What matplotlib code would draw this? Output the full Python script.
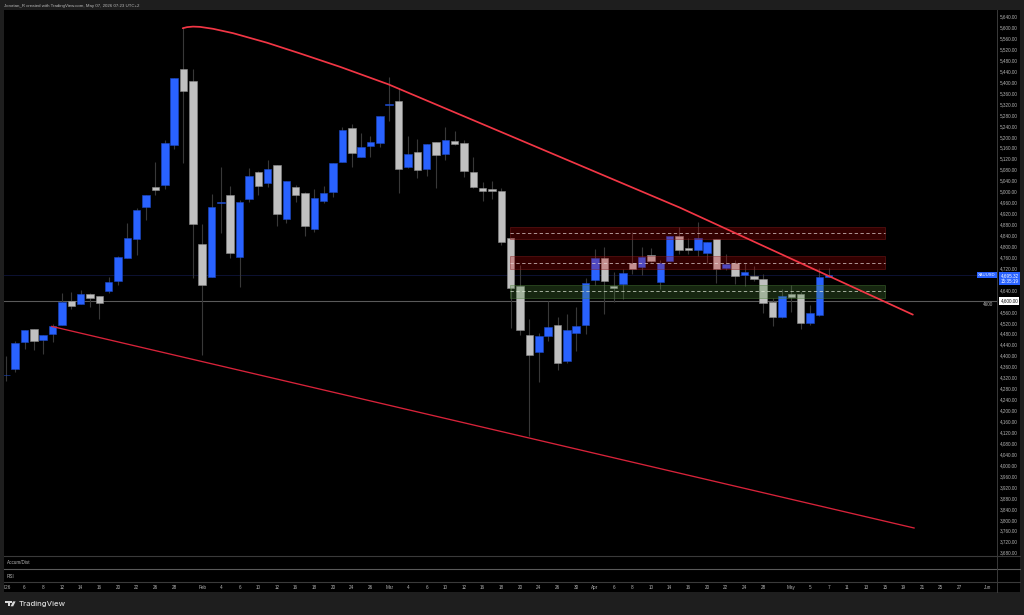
import matplotlib
matplotlib.use("Agg")
import matplotlib.pyplot as plt
from matplotlib.lines import Line2D
from matplotlib.patches import Rectangle, Polygon
from matplotlib.ticker import FuncFormatter

opens = [4328, 4351, 4450, 4496, 4457, 4479, 4512, 4600, 4590, 4624, 4617, 4636, 4673, 4757, 4825, 4945, 5018, 5023, 5171,
         5448, 5403, 4807, 4689, 4959, 4987, 4760, 4972, 5073, 5030, 5096, 4900, 5015, 4996, 4863, 4964, 4997, 5109, 5233,
         5126, 5168, 5179, 5317, 5332, 5089, 5146, 5081, 5181, 5137, 5185, 5177, 5073, 5012, 5008, 5002, 4829, 4655, 4474,
         4414, 4472, 4511, 4379, 4484, 4513, 4677, 4757, 4655, 4662, 4740, 4725, 4768, 4669, 4747, 4837, 4795, 4787, 4775,
         4825, 4720, 4740, 4694, 4692, 4681, 4596, 4540, 4627, 4625, 4520, 4550, 4689]
highs = [4399, 4455, 4494, 4497, 4475, 4516, 4630, 4634, 4640, 4629, 4618, 4686, 4764, 4884, 4940, 4987, 5108, 5188, 5415,
         5600, 5448, 4881, 4991, 5089, 5020, 4969, 5085, 5075, 5115, 5096, 5040, 5024, 4997, 5008, 5020, 5105, 5235, 5247,
         5215, 5203, 5278, 5418, 5377, 5203, 5192, 5173, 5181, 5235, 5221, 5188, 5125, 5036, 5040, 5014, 4829, 4731, 4534,
         4483, 4600, 4540, 4552, 4577, 4685, 4790, 4796, 4705, 4716, 4853, 4796, 4792, 4750, 4838, 4869, 4830, 4888, 4817,
         4826, 4770, 4750, 4738, 4728, 4697, 4610, 4643, 4658, 4633, 4584, 4719, 4719]
lows = [4308, 4341, 4425, 4421, 4406, 4451, 4512, 4571, 4590, 4579, 4535, 4630, 4658, 4757, 4768, 4896, 4987, 5010, 5156,
        5103, 4685, 4401, 4688, 4847, 4758, 4652, 4963, 4986, 5018, 4875, 4884, 4961, 4839, 4853, 4959, 4981, 5108, 5091,
        5126, 5127, 5164, 5258, 4994, 5086, 5048, 5058, 5013, 5115, 5171, 5052, 5013, 4967, 4972, 4805, 4500, 4475, 4106,
        4305, 4454, 4349, 4374, 4418, 4479, 4658, 4552, 4597, 4606, 4699, 4695, 4744, 4643, 4746, 4770, 4770, 4765, 4740,
        4667, 4713, 4662, 4656, 4673, 4557, 4508, 4539, 4558, 4497, 4512, 4545, 4688]
closes = [4331, 4446, 4493, 4452, 4474, 4507, 4596, 4583, 4624, 4612, 4592, 4668, 4762, 4829, 4932, 4986, 5005, 5179, 5415,
          5369, 4881, 4658, 4943, 4962, 4776, 4963, 5056, 5021, 5081, 4919, 5040, 4987, 4874, 4975, 4994, 5104, 5225, 5140,
          5163, 5182, 5277, 5321, 5083, 5138, 5079, 5173, 5134, 5190, 5173, 5076, 5015, 5003, 5003, 4814, 4647, 4495, 4403,
          4472, 4504, 4374, 4493, 4507, 4664, 4756, 4673, 4646, 4703, 4716, 4762, 4746, 4738, 4837, 4787, 4787, 4829, 4817,
          4718, 4736, 4691, 4705, 4679, 4594, 4540, 4618, 4613, 4520, 4555, 4688, 4695.32]

tick_pos = [0, 2, 4, 6, 8, 10, 12, 14, 16, 18, 21, 23, 25, 27, 29, 31, 33, 35, 37, 39, 41, 43, 45, 47, 49, 51, 53, 55, 57, 59,
            61, 63, 65, 67, 69, 71, 73, 75, 77, 79, 81, 84, 86, 88, 90, 92, 94, 96, 98, 100, 102, 105]
tick_labels = ["2026", "6", "8", "12", "14", "16", "20", "22", "26", "28", "Feb", "4", "6", "10", "12", "16", "18", "20", "24",
               "26", "Mar", "4", "6", "10", "12", "16", "18", "20", "24", "26", "30", "Apr", "6", "8", "10", "14", "16", "20",
               "22", "24", "28", "May", "5", "7", "11", "13", "15", "19", "21", "25", "27", "Jun"]

# 4,680 and 4,600 sit under the price tags
price_ticks = [p for p in range(3680, 5641, 40) if p not in (4680, 4600)]

# drawings on the chart
upper_x = [18.92, 19.38, 20.02, 20.77, 22.16, 24.3, 27.94, 31.46, 35.74, 40.91, 53.92, 72.1, 97.0]
upper_y = [5597, 5601, 5603, 5602, 5595, 5579, 5544, 5505, 5456, 5392, 5204, 4941, 4550]
lower_x = [4.91, 97.13]
lower_y = [4507, 3770]

zone_start, zone_end = 53.9, 94.0
red_zones = [(4825, 4869, 4847), (4717, 4763, 4740)]
green_zones = [(4612, 4657, 4635)]

last_price = 4695.32
level_price = 4600

W, H = 1024, 615
BG = "#1e1e1e"
TXT = "#b4b4b4"
plt.rcParams["font.family"] = ["Liberation Sans", "DejaVu Sans"]


def px_rect(x0, y0, x1, y1):
    return [x0 / W, 1 - y1 / H, (x1 - x0) / W, (y1 - y0) / H]


def px_line(fig, x0, y0, x1, y1, color, lw=0.7):
    fig.add_artist(Line2D([x0 / W, x1 / W], [1 - y0 / H, 1 - y1 / H], color=color, lw=lw, zorder=5))


fig = plt.figure(figsize=(W / 100, H / 100), dpi=100, facecolor=BG)

bg = fig.add_axes(px_rect(4, 10, 1020, 592), facecolor="black")
bg.set_xticks([])
bg.set_yticks([])
for s in bg.spines.values():
    s.set_visible(False)

ax = fig.add_axes(px_rect(4, 10, 997, 556.3), facecolor="none")
ax.set_xlim(-0.1925, 106.0)
ax.set_ylim(3666.5, 5663.7)
for s in ax.spines.values():
    s.set_visible(False)
ax.set_xticks([])
ax.yaxis.tick_right()
ax.set_yticks(price_ticks)
ax.yaxis.set_major_formatter(FuncFormatter(lambda v, _: f"{v:,.2f}"))
ax.tick_params(axis="y", length=0, pad=2.2, labelsize=3.3, labelcolor=TXT)

# candles
idx = list(range(len(opens)))
ax.vlines(idx, lows, highs, color="#383838", lw=0.8, zorder=2)
for i, o, c in zip(idx, opens, closes):
    up = c >= o
    ax.bar(i, abs(c - o), bottom=min(o, c), width=0.8, zorder=3,
           color="#2962ff" if up else "#c0c0c0",
           edgecolor="#1c48c4" if up else "#8c8c8c", linewidth=0.4)

# horizontal levels
ax.axhline(last_price, color="#0d1233", lw=0.7, zorder=1)
ax.axhline(level_price, color="#5a5a5a", lw=0.8, zorder=1)

# zones
for bottom, top, mid in red_zones:
    ax.add_patch(Rectangle((zone_start, bottom), zone_end - zone_start, top - bottom, facecolor=(0.8, 0.0, 0.0, 0.25),
                           edgecolor=(0.55, 0.12, 0.12, 0.6), lw=0.5, zorder=4))
    ax.plot([zone_start, zone_end], [mid, mid], color="#e8d8d8", lw=0.6, ls=(0, (4, 3)), alpha=0.8, zorder=4)
for bottom, top, mid in green_zones:
    ax.add_patch(Rectangle((zone_start, bottom), zone_end - zone_start, top - bottom, facecolor=(0.32, 0.56, 0.24, 0.27),
                           edgecolor=(0.3, 0.5, 0.22, 0.6), lw=0.5, zorder=4))
    ax.plot([zone_start, zone_end], [mid, mid], color="#e4ecdc", lw=0.6, ls=(0, (4, 3)), alpha=0.8, zorder=4)

# trend lines
ax.plot(upper_x, upper_y, color="#f23645", lw=1.25, zorder=5, solid_capstyle="round")
ax.plot(lower_x, lower_y, color="#d8233a", lw=0.95, zorder=5)

# price tags
ytr = ax.get_yaxis_transform()
ax.text(1.0035, last_price - 14, "4,695.32\n15:35:19", transform=ytr, ha="left", va="center", fontsize=3.3, color="white",
        linespacing=1.05, clip_on=False, zorder=10, bbox=dict(fc="#2962ff", ec="none", pad=1.1))
ax.text(0.9988, last_price, "XAUUSD", transform=ytr, ha="right", va="center", fontsize=3.0, color="white", clip_on=False,
        zorder=10, bbox=dict(fc="#2962ff", ec="none", pad=0.8))
ax.text(1.0035, level_price, "4,600.00", transform=ytr, ha="left", va="center", fontsize=3.3, color="#111111", clip_on=False,
        zorder=10, bbox=dict(fc="white", ec="none", pad=0.9))
ax.text(0.9965, level_price - 13, "4600", transform=ytr, ha="right", va="center", fontsize=3.3, color=TXT, zorder=10)

# lower panes and time axis
for top, bottom, name in [(556.3, 569.3, "Accum/Dist"), (569.3, 582.3, "RSI")]:
    fig.text(7 / W, 1 - (top + 6.7) / H, name, fontsize=3.3, color=TXT, va="center", ha="left", zorder=6)

ax_time = fig.add_axes(px_rect(4, 582.3, 997, 592), facecolor="none")
ax_time.set_xlim(ax.get_xlim())
ax_time.set_yticks([])
for s in ax_time.spines.values():
    s.set_visible(False)
ax_time.set_xticks(tick_pos)
ax_time.set_xticklabels(tick_labels, va="center")
ax_time.tick_params(axis="x", length=0, pad=-3.4, labelsize=3.3, labelcolor=TXT)

px_line(fig, 4, 556.3, 1020, 556.3, "#3a3a3a", 0.8)
px_line(fig, 4, 569.3, 1020, 569.3, "#5a5a5a", 0.8)
px_line(fig, 4, 582.3, 1020, 582.3, "#3a3a3a", 0.8)
px_line(fig, 997, 10, 997, 592, "#3a3a3a", 0.7)

# left strip goes over the clipped first label
fig.add_artist(Rectangle((0, 0), 4 / W, 1, transform=fig.transFigure, fc=BG, ec="none", zorder=7))

fig.text(4 / W, 1 - 5.8 / H, "Jonatan_R created with TradingView.com, May 07, 2026 07:23 UTC+2", fontsize=3.15, color="#b8b8b8",
         va="center", ha="left", zorder=8)

# logo
LOGO = "#d8d8d8"
fig.add_artist(Polygon([(4.7 / W, 1 - 601.4 / H), (9.6 / W, 1 - 601.4 / H), (9.6 / W, 1 - 606.3 / H), (7.5 / W, 1 - 606.3 / H),
                        (7.5 / W, 1 - 603.4 / H), (4.7 / W, 1 - 603.4 / H)], closed=True, transform=fig.transFigure,
                       fc=LOGO, ec="none", zorder=8))
fig.add_artist(Polygon([(13.0 / W, 1 - 601.4 / H), (15.6 / W, 1 - 601.4 / H), (13.2 / W, 1 - 606.3 / H), (10.6 / W, 1 - 606.3 / H)],
                       closed=True, transform=fig.transFigure, fc=LOGO, ec="none", zorder=8))
fig.add_artist(Rectangle((10.0 / W, 1 - 603.4 / H), 2.2 / W, 2.0 / H, transform=fig.transFigure, fc=LOGO, ec="none", zorder=8))
fig.text(18.5 / W, 1 - 603.8 / H, "TradingView", fontsize=5.6, color="#d8d8d8", family="Inter", weight="medium",
         va="center", ha="left", zorder=8)

fig.savefig("out.png", dpi=100, facecolor=BG)
